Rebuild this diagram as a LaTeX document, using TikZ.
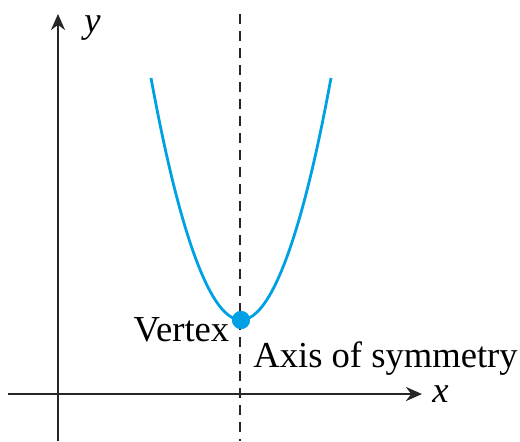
\documentclass[tikz,border=0pt]{standalone}
\usepackage{fontspec}
\setmainfont{Liberation Serif}
\usepackage{tikz}
\usetikzlibrary{arrows.meta,positioning}
\definecolor{curveblue}{RGB}{0,160,228}
\tikzset{
    axisline/.style={-{Stealth[length=8pt,width=7pt]}, line width=1.4pt, black!85},
    symline/.style={line width=1.4pt, black!85, dash pattern=on 5pt off 3.5pt},
    curve/.style={line width=1.4pt, curveblue},
    vdot/.style={circle, fill=curveblue, inner sep=0pt, minimum size=9pt},
    lbl/.style={font=\fontsize{18.3}{20}\selectfont, inner sep=1pt}
}

\begin{document}
\begin{tikzpicture}[x=0.5pt,y=0.5pt]
        \useasboundingbox (0,0) rectangle (520,-441);
        \coordinate (ybot) at (58,-441);
        \coordinate (ytop) at (58,-14);
        \coordinate (xleft) at (8,-394);
        \coordinate (xright) at (422,-394);
        \coordinate (stop) at (240,-14);
        \coordinate (sbot) at (240,-441);

        \draw[axisline] (ybot) -- (ytop);
        \draw[axisline] (xleft) -- (xright);
        \draw[symline] (stop) -- (sbot);

        \coordinate (cl) at (151,-78);
        \coordinate (cr) at (331,-78);
        \node[vdot] (vtx) at (241,-320) {};
        \draw[curve] (cl) parabola bend (vtx.center) (cr);
        \node[vdot] at (vtx) {};

        \node[lbl, font=\fontsize{18.3}{20}\selectfont\itshape, right=12pt of ytop, yshift=-7pt] (ylbl) {y};
        \node[lbl, font=\fontsize{18.3}{20}\selectfont\itshape, right=4pt of xright] (xlbl) {x};
        \node[lbl, left=0pt of vtx, yshift=-5pt] (vtxlbl) {Vertex};
        \node[lbl, anchor=west] (axlbl) at (251,-359) {Axis of symmetry};
    \end{tikzpicture}
\end{document}
